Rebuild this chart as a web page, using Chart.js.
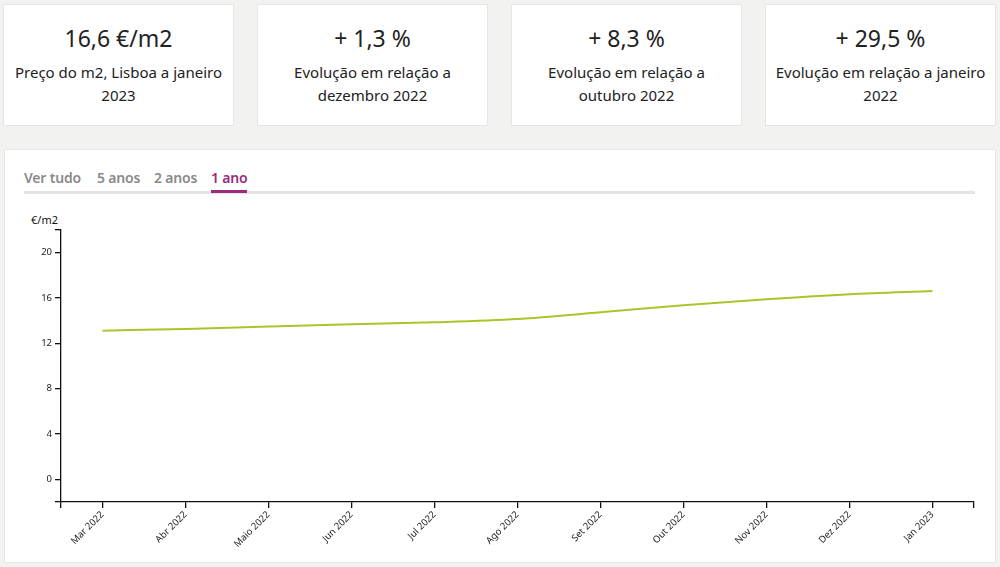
<!DOCTYPE html>
<html>
<head>
<meta charset="utf-8">
<script src="https://cdn.jsdelivr.net/npm/chart.js@4"></script>
<style>
  html, body { margin:0; padding:0; }
  body { width:1000px; height:567px; background:#f2f2f1; position:relative; overflow:hidden; font-family:"Noto Sans", "Open Sans", sans-serif; color:#222; }
  .card { position:absolute; top:4px; width:231px; height:122px; background:#fff; border:1px solid #e6e6e6; box-sizing:border-box; text-align:center; }
  .card .val { position:absolute; left:0; right:0; top:17px; font-size:23px; line-height:32px; }
  .card .lab { position:absolute; left:6px; right:6px; top:56px; font-size:15px; line-height:23px; }
  #panel { position:absolute; left:4px; top:149px; width:992px; height:414px; background:#fff; border:1px solid #e6e6e6; box-sizing:border-box; }
  .tabs { position:absolute; left:24px; top:168px; width:951px; height:26px; border-bottom:3px solid #e3e3e3; box-sizing:border-box; }
  .tab { position:absolute; top:0; font-size:14px; font-weight:600; color:#8a8a8a; line-height:20px; letter-spacing:-0.2px; }
  .tab.active { color:#9c2b7e; }
  .tab.active::after { content:""; position:absolute; left:0; right:0; bottom:-5px; height:3px; background:#9c2b7e; }
  #unit { position:absolute; left:31px; top:212px; font-size:11px; color:#111; }
  #wrap { position:absolute; left:0; top:200px; width:1000px; height:367px; }
</style>
</head>
<body>
<div class="card" style="left:3px"><div class="val">16,6 €/m2</div><div class="lab">Preço do m2, Lisboa a janeiro 2023</div></div>
<div class="card" style="left:257px"><div class="val">+ 1,3 %</div><div class="lab">Evolução em relação a<br>dezembro 2022</div></div>
<div class="card" style="left:511px"><div class="val">+ 8,3 %</div><div class="lab">Evolução em relação a<br>outubro 2022</div></div>
<div class="card" style="left:765px"><div class="val">+ 29,5 %</div><div class="lab">Evolução em relação a janeiro 2022</div></div>
<div id="panel"></div>
<div class="tabs">
  <span class="tab" style="left:0">Ver tudo</span>
  <span class="tab" style="left:73px">5 anos</span>
  <span class="tab" style="left:130px">2 anos</span>
  <span class="tab active" style="left:187px">1 ano</span>
</div>
<div id="unit">€/m2</div>
<div id="wrap"><canvas id="c" width="1000" height="367"></canvas></div>
<script>
const categories = ["Mar 2022","Abr 2022","Maio 2022","Jun 2022","Jul 2022","Ago 2022","Set 2022","Out 2022","Nov 2022","Dez 2022","Jan 2023"];
const prices = [13.12, 13.27, 13.48, 13.68, 13.86, 14.15, 14.74, 15.36, 15.89, 16.33, 16.62];
const yTicks = [0, 4, 8, 12, 16, 20];
const yMin = -2, yMax = 22;

const points = prices.map((v, i) => ({ x: i, y: v }));
const xMin = -0.5, xMax = categories.length - 0.5;

new Chart(document.getElementById('c'), {
  type: 'line',
  data: { datasets: [{ data: points, borderColor: '#a8c62a', borderWidth: 2, pointRadius: 0, fill: false, cubicInterpolationMode: 'monotone' }] },
  options: {
    responsive: false, animation: false,
    layout: { padding: { top: 30, right: 26, left: 0, bottom: 0 } },
    plugins: { legend: { display: false }, tooltip: { enabled: false } },
    scales: {
      x: {
        type: 'linear', min: xMin, max: xMax,
        afterBuildTicks: s => { s.ticks = [xMin, ...categories.map((c, i) => i), xMax].map(v => ({ value: v })); },
        afterFit: s => { s.height = 65; },
        border: { display: true, color: '#111', width: 1.3 },
        grid: { drawOnChartArea: false, drawTicks: true, tickLength: 6, color: '#111', lineWidth: 1.3 },
        ticks: { autoSkip: false, minRotation: 45, maxRotation: 45, padding: 1, color: '#222', font: { family: 'Noto Sans', size: 9.5 },
          callback: v => (Number.isInteger(v) && categories[v]) ? categories[v] : '' }
      },
      y: {
        min: yMin, max: yMax,
        afterBuildTicks: s => { s.ticks = [yMin, ...yTicks, yMax].map(v => ({ value: v })); },
        afterFit: s => { s.width = 61; },
        border: { display: true, color: '#111', width: 1.3 },
        grid: { drawOnChartArea: false, drawTicks: true, tickLength: 6, color: '#111', lineWidth: 1.3 },
        ticks: { autoSkip: false, padding: 3, color: '#222', font: { family: 'Noto Sans', size: 9.5 },
          callback: v => yTicks.includes(v) ? String(v) : '' }
      }
    }
  }
});
</script>
</body>
</html>
